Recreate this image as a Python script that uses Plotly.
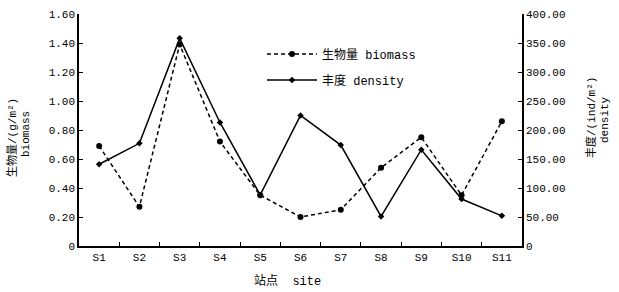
import plotly.graph_objects as go

sites = ["S1","S2","S3","S4","S5","S6","S7","S8","S9","S10","S11"]
biomass = [0.69,0.27,1.39,0.72,0.35,0.20,0.25,0.54,0.75,0.35,0.86]
density = [141,177,358,213,88,225,174,51,166,81,52]
left_ticks = [0,0.2,0.4,0.6,0.8,1.0,1.2,1.4,1.6]
left_text = ["0","0.20","0.40","0.60","0.80","1.00","1.20","1.40","1.60"]
right_ticks = [0,50,100,150,200,250,300,350,400]
right_text = ["0","50.00","100.00","150.00","200.00","250.00","300.00","350.00","400.00"]

FONT = "Liberation Mono, Noto Sans CJK SC"
fig = go.Figure()
fig.add_trace(go.Scatter(x=sites, y=biomass, name="生物量 biomass", mode="lines+markers", legend="legend",
    line=dict(color="black", width=1.5, dash="4px,3px"), marker=dict(symbol="circle", size=6, color="black")))
fig.add_trace(go.Scatter(x=sites, y=density, name="丰度 density", yaxis="y2", mode="lines+markers", legend="legend2",
    line=dict(color="black", width=1.5), marker=dict(symbol="diamond", size=5, color="black")))

L = 79; R = 522; T = 14; B = 246
def px(x):
    return (x - L) / (R - L)
def py(y):
    return 1 - (y - T) / (B - T)

def rot(text, xpix, ypix, size=11):
    return dict(text=text, xref="paper", yref="paper", x=0, xshift=xpix - L, y=py(ypix),
                textangle=-90, xanchor="center", yanchor="middle", showarrow=False,
                font=dict(size=size))

fig.update_layout(
    width=619, height=292, margin=dict(l=L, r=619 - R, t=T, b=292 - B, autoexpand=False),
    paper_bgcolor="white", plot_bgcolor="white",
    font=dict(family=FONT, size=12, color="black"),
    showlegend=True,
    legend=dict(x=px(262), y=py(54), xanchor="left", yanchor="middle", bgcolor="rgba(0,0,0,0)",
                font=dict(size=12), itemwidth=50),
    legend2=dict(x=px(262), y=py(80), xanchor="left", yanchor="middle", bgcolor="rgba(0,0,0,0)",
                 font=dict(size=12), itemwidth=50),
    xaxis=dict(type="category", range=[-0.5,10.5], showline=True, linecolor="black", linewidth=1.5,
               ticks="inside", ticklen=4, tickcolor="black", tickson="boundaries", showgrid=False,
               zeroline=False, tickfont=dict(size=11)),
    yaxis=dict(range=[0,1.6], tickvals=left_ticks, ticktext=left_text, showline=True, linecolor="black",
               linewidth=1.5, ticks="inside", ticklen=4, tickcolor="black", showgrid=False, zeroline=False,
               tickfont=dict(size=11)),
    yaxis2=dict(range=[0,400], overlaying="y", side="right", tickvals=right_ticks, ticktext=right_text,
                showline=True, linecolor="black", linewidth=1.5, ticks="inside", ticklen=4, tickcolor="black",
                showgrid=False, zeroline=False, tickfont=dict(size=11)),
    annotations=[
        dict(text="站点  site", xref="paper", yref="paper", x=px(287), y=py(281),
             xanchor="center", yanchor="middle", showarrow=False, font=dict(size=12)),
        rot("生物量/(g/m²)", 12, 138),
        rot("biomass", 26, 134),
        rot("丰度/(ind/m²)", 591, 118),
        rot("density", 605, 120),
    ],
)
fig.write_html("out.html", config={"displayModeBar": False},
               post_script="document.body.style.margin='0';document.body.style.overflow='hidden';")
